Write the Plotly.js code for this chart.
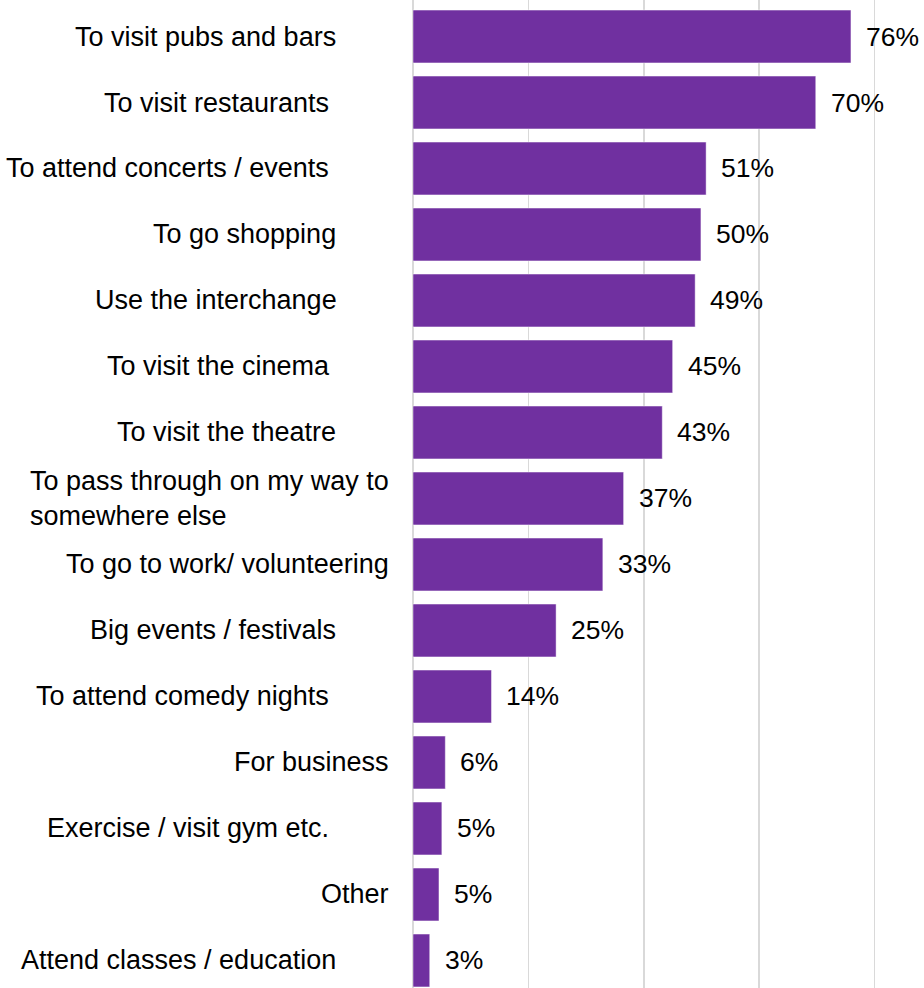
<!DOCTYPE html>
<html>
<head>
<meta charset="utf-8">
<script src="https://cdn.plot.ly/plotly-3.0.1.min.js"></script>
<style>html,body{margin:0;padding:0;background:#fff;}#chart{width:924px;height:988px;}</style>
</head>
<body>
<div id="chart"></div>
<script>
var NB = '\u00a0';
function pad(n){ return NB.repeat(n); }

var categories = [
  'To visit pubs and bars',
  'To visit restaurants',
  'To attend concerts / events',
  'To go shopping',
  'Use the interchange',
  'To visit the cinema',
  'To visit the theatre',
  'To pass through on my way to<br>somewhere else',
  'To go to work/ volunteering',
  'Big events / festivals',
  'To attend comedy nights',
  'For business',
  'Exercise / visit gym etc.',
  'Other',
  'Attend classes / education'
];
var trailingSpaces = [7, 8, 8, 7, 7, 8, 7, 1, 0, 7, 8, 0, 8, 0, 7];
var values = [75.9, 69.8, 50.8, 49.9, 48.9, 45.0, 43.2, 36.5, 32.9, 24.8, 13.6, 5.6, 5.0, 4.5, 2.9];
var valueLabels = ['76%','70%','51%','50%','49%','45%','43%','37%','33%','25%','14%','6%','5%','5%','3%'];

var ids = categories.map(function(c, i){ return 'c' + i; });

var trace = {
  type: 'bar',
  orientation: 'h',
  x: values,
  y: ids,
  marker: { color: '#7030A0', line: { color: 'rgba(255,255,255,0.6)', width: 0.75 } },
  hoverinfo: 'skip'
};

var annotations = [];
categories.forEach(function(c, i){
  annotations.push({
    x: 0, y: ids[i], xref: 'x', yref: 'y',
    text: c + pad(trailingSpaces[i]),
    showarrow: false, xanchor: 'right', yanchor: 'middle', align: 'left',
    xshift: -22,
    font: { family: 'Liberation Sans, Arial, sans-serif', size: 27, color: '#000' }
  });
  annotations.push({
    x: values[i], y: ids[i], xref: 'x', yref: 'y',
    text: valueLabels[i],
    showarrow: false, xanchor: 'left', yanchor: 'middle',
    xshift: 13,
    font: { family: 'Liberation Sans, Arial, sans-serif', size: 26.5, color: '#000' }
  });
});

var layout = {
  width: 924, height: 988,
  margin: { l: 413, r: 0, t: 0, b: 0 },
  paper_bgcolor: '#fff', plot_bgcolor: '#fff',
  showlegend: false,
  bargap: 0.2,
  xaxis: {
    range: [0, 88.56], dtick: 20, tick0: 0,
    showgrid: true, gridcolor: '#d9d9d9', gridwidth: 1.5,
    zeroline: true, zerolinecolor: '#d9d9d9', zerolinewidth: 1.5,
    showticklabels: false, ticks: '', showline: false, fixedrange: true
  },
  yaxis: {
    type: 'category',
    range: [14.417, -0.553],
    showticklabels: false, ticks: '', showgrid: false, zeroline: false, showline: false
  },
  annotations: annotations,
  font: { family: 'Liberation Sans, Arial, sans-serif', color: '#000' }
};

Plotly.newPlot('chart', [trace], layout, { displayModeBar: false, staticPlot: true });
</script>
</body>
</html>
